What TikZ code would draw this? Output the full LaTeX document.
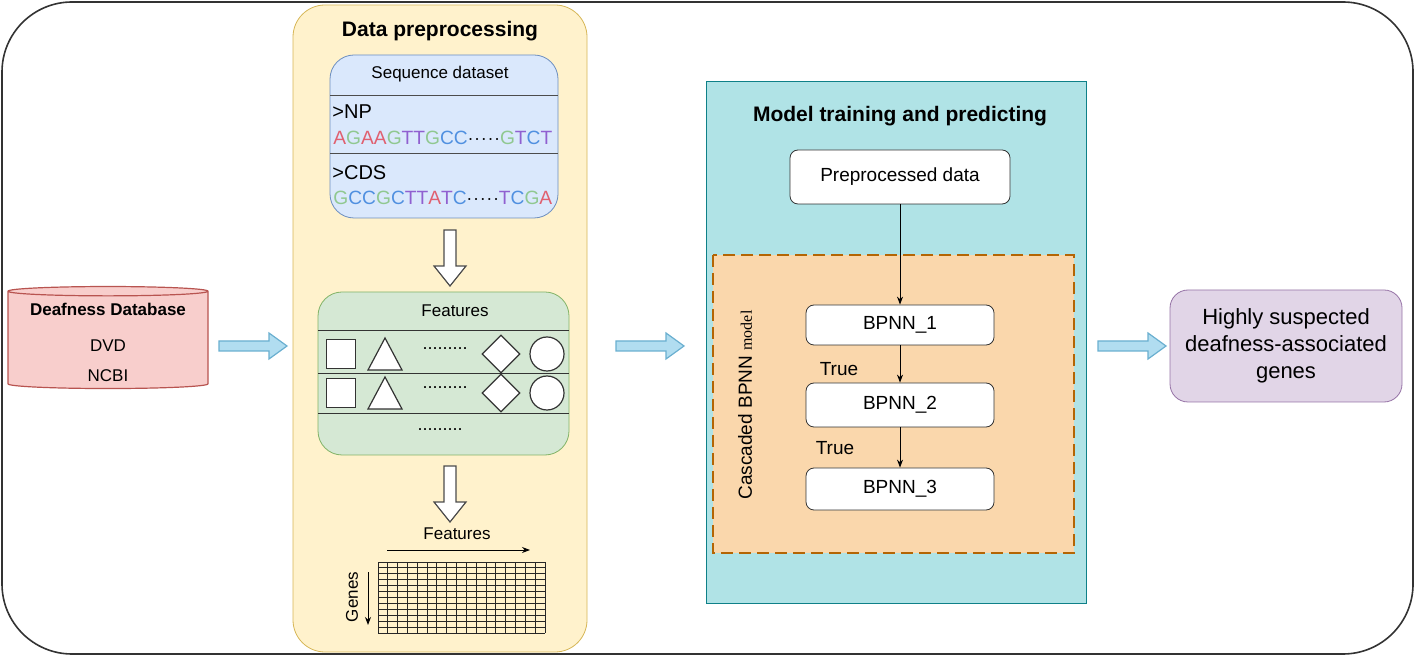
\documentclass[tikz,border=0pt]{standalone}
\usepackage{fontspec}
\setmainfont{Liberation Sans}
\usetikzlibrary{shapes.geometric,arrows.meta}
\definecolor{yf}{HTML}{FFF2CC}\definecolor{yd}{HTML}{D6B656}
\definecolor{bf}{HTML}{DAE8FC}\definecolor{bd}{HTML}{6C8EBF}
\definecolor{gf}{HTML}{D5E8D4}\definecolor{gd}{HTML}{82B366}
\definecolor{rf}{HTML}{F8CECC}\definecolor{rd}{HTML}{B85450}
\definecolor{tf}{HTML}{B0E3E6}\definecolor{td}{HTML}{0E8088}
\definecolor{of}{HTML}{FAD7AC}\definecolor{od}{HTML}{B46504}
\definecolor{pf}{HTML}{E1D5E7}\definecolor{pd}{HTML}{9673A6}
\definecolor{af}{HTML}{B1DDF0}\definecolor{ad}{HTML}{6AAFD0}
\definecolor{cA}{HTML}{E06070}\definecolor{cG}{HTML}{90C890}\definecolor{cT}{HTML}{9060D0}\definecolor{cC}{HTML}{5090E0}
\newcommand{\A}{\textcolor{cA}{A}}\newcommand{\G}{\textcolor{cG}{G}}
\newcommand{\T}{\textcolor{cT}{T}}\newcommand{\C}{\textcolor{cC}{C}}
\newcommand{\dts}{$\cdot\!\cdot\!\cdot\!\cdot\!\cdot$}
\newcommand{\blkarrow}[2]{\draw[ad,fill=af,line width=0.6pt] (#1,#2-5)--(#1+50,#2-5)--(#1+50,#2-13)--(#1+68,#2)--(#1+50,#2+13)--(#1+50,#2+5)--(#1,#2+5)--cycle;}
\newcommand{\holarrow}[2]{\draw[black!70,fill=white,line width=0.6pt] (#1-6,#2)--(#1+6,#2)--(#1+6,#2+36)--(#1+16,#2+36)--(#1,#2+56)--(#1-16,#2+36)--(#1-6,#2+36)--cycle;}
\tikzset{
 bx/.style={draw=black!80,fill=white,rounded corners=4pt,font=\fontsize{9.5}{11}\selectfont},
 sh/.style={draw=black!80,fill=white,line width=0.6pt,inner sep=0pt},
 ar/.style={-{Stealth[length=4pt]},line width=0.5pt}
}
\begin{document}
\begin{tikzpicture}[x=0.5pt,y=-0.5pt]
\useasboundingbox (0,0) rectangle (1416,656);
\draw[black!80,line width=0.8pt,rounded corners=35pt] (2,2) rectangle (1413,654);
% data preprocessing
\draw[yd,fill=yf,rounded corners=16pt] (293,5) rectangle (587,652);
\node[font=\bfseries\fontsize{10.5}{12}\selectfont] (t1) at (440,31) {Data preprocessing};
\draw[bd,fill=bf,rounded corners=12pt] (330,55) rectangle (558,218);
\draw[black!70] (330,95)--(558,95) (330,153)--(558,153);
\node[font=\fontsize{8.5}{10}\selectfont] (sd) at (440,74) {Sequence dataset};
\node[anchor=west,font=\fontsize{10}{12}\selectfont,inner sep=0pt] (np) at (332,112) {>NP};
\node[anchor=west,font=\fontsize{9.6}{11}\selectfont,inner sep=0pt] (s1) at (333,138) {\A\G\A\A\G\T\T\G\C\C\dts\G\T\C\T};
\node[anchor=west,font=\fontsize{10}{12}\selectfont,inner sep=0pt] (cds) at (332,173) {>CDS};
\node[anchor=west,font=\fontsize{9.6}{11}\selectfont,inner sep=0pt] (s2) at (333,198) {\G\C\C\G\C\T\T\A\T\C\dts\T\C\G\A};
\holarrow{450}{230}
\draw[gd,fill=gf,rounded corners=12pt] (318,292) rectangle (569,455);
\draw[black!80] (318,330)--(569,330) (318,373)--(569,373) (318,413)--(569,413);
\node[font=\fontsize{8.5}{10}\selectfont] (ft) at (455,311) {Features};
\foreach \y/\n in {354/a,393/b}{
 \node[sh,rectangle,minimum size=14.5pt] (q\n) at (341,\y) {};
 \draw[black!80,fill=white,line width=0.6pt] (368,\y+16)--(385,\y-16)--(402,\y+16)--cycle;
 \node[font=\fontsize{9}{10}\selectfont] (d\n) at (445,\y-5) {.........};
 \node[sh,diamond,minimum size=19pt] (m\n) at (501,\y) {};
 \node[sh,circle,minimum size=17pt] (c\n) at (547,\y) {};
}
\node[font=\fontsize{9}{10}\selectfont] (dc) at (440,430) {.........};
\holarrow{450}{466}
\node[font=\fontsize{8.5}{10}\selectfont] (fl) at (457,534) {Features};
\coordinate (f0) at (387,550); \coordinate (f1) at (530,550);
\draw[ar] (f0)--(f1);
\node[font=\fontsize{8.5}{10}\selectfont,rotate=90] (gl) at (352,597) {Genes};
\coordinate (g0) at (368,572); \coordinate (g1) at (368,625);
\draw[ar] (g0)--(g1);
\foreach \i in {0,...,12}{\draw[black!85,line width=0.5pt] (378,562+\i*71/12)--(545,562+\i*71/12);}
\foreach \i in {0,...,17}{\draw[black!85,line width=0.5pt] (378+\i*167/17,562)--(378+\i*167/17,633);}
% database
\node[cylinder,shape border rotate=90,draw=rd,fill=rf,minimum width=100pt,minimum height=51pt,aspect=0.7,line width=0.6pt] (db) at (108,341) {};
\node[font=\bfseries\fontsize{8.5}{10}\selectfont] (dbt) at (108,309) {Deafness Database};
\node[font=\fontsize{8.5}{10}\selectfont] (dvd) at (108,346) {DVD};
\node[font=\fontsize{8.5}{10}\selectfont] (ncbi) at (108,376) {NCBI};
\blkarrow{219}{346}
\blkarrow{616}{346}
\blkarrow{1098}{346}
% model
\draw[td,fill=tf] (706,81) rectangle (1086,603);
\node[font=\bfseries\fontsize{10.5}{12}\selectfont] (t2) at (900,116) {Model training and predicting};
\node[bx,minimum width=110pt,minimum height=27pt] (pp) at (900,177) {Preprocessed data};
\draw[od,fill=of,line width=1.4pt,dash pattern=on 6pt off 3pt] (713,255) rectangle (1074,553);
\node[rotate=90,font=\fontsize{9.5}{11}\selectfont] (cas) at (745,405) {Cascaded BPNN {\fontspec{Liberation Serif}\fontsize{8}{10}\selectfont model}};
\node[bx,minimum width=94pt,minimum height=20pt] (b1) at (900,325) {BPNN\_1};
\node[bx,minimum width=94pt,minimum height=22pt] (b2) at (900,405) {BPNN\_2};
\node[bx,minimum width=94pt,minimum height=21pt] (b3) at (900,489) {BPNN\_3};
\draw[ar] (pp)--(b1); \draw[ar] (b1)--(b2); \draw[ar] (b2)--(b3);
\node[font=\fontsize{9.5}{11}\selectfont] (tr1) at (839,369) {True};
\node[font=\fontsize{9.5}{11}\selectfont] (tr2) at (835,448) {True};
% output
\node[draw=pd,fill=pf,rounded corners=9pt,minimum width=116pt,minimum height=56pt,align=center,font=\fontsize{11}{13.5}\selectfont] (out) at (1286,346) {Highly suspected\\deafness-associated\\genes};
\end{tikzpicture}
\end{document}
